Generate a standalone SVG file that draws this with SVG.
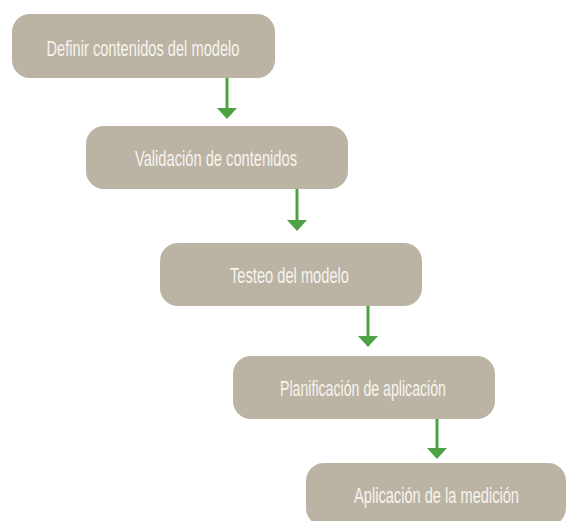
<svg xmlns="http://www.w3.org/2000/svg" width="566" height="521" viewBox="0 0 566 521">
<style>
.box{fill:#BBB3A4}
.lbl{fill:#F7F4EE;font-family:"Liberation Sans",Arial,sans-serif;font-size:22px;text-anchor:middle}
.con line{stroke:#4EA244;stroke-width:3}
.con polygon{fill:#4EA244}
</style>
<rect width="566" height="521" fill="#ffffff"/>
<g id="n1"><rect class="box" x="12" y="14" width="263" height="64" rx="18"/><text class="lbl" x="143" y="55.5" textLength="193" lengthAdjust="spacingAndGlyphs">Definir contenidos del modelo</text></g>
<g id="n2"><rect class="box" x="86" y="126" width="262" height="63" rx="18"/><text class="lbl" x="216" y="166" textLength="162" lengthAdjust="spacingAndGlyphs">Validación de contenidos</text></g>
<g id="n3"><rect class="box" x="160" y="243" width="262" height="63" rx="18"/><text class="lbl" x="289.5" y="283" textLength="119" lengthAdjust="spacingAndGlyphs">Testeo del modelo</text></g>
<g id="n4"><rect class="box" x="233" y="356" width="262" height="63" rx="18"/><text class="lbl" x="363" y="396" textLength="166" lengthAdjust="spacingAndGlyphs">Planificación de aplicación</text></g>
<g id="n5"><rect class="box" x="306" y="463" width="260" height="63" rx="18"/><text class="lbl" x="436.5" y="503" textLength="165" lengthAdjust="spacingAndGlyphs">Aplicación de la medición</text></g>
<g id="connectors" class="con">
<line x1="227" y1="78" x2="227" y2="110"/><polygon points="217,108 237,108 227,119"/>
<line x1="297" y1="189" x2="297" y2="222"/><polygon points="287,220 307,220 297,231"/>
<line x1="368" y1="306" x2="368" y2="338"/><polygon points="358,336 378,336 368,347"/>
<line x1="437" y1="419" x2="437" y2="450"/><polygon points="427,448 447,448 437,459"/>
</g>
</svg>
